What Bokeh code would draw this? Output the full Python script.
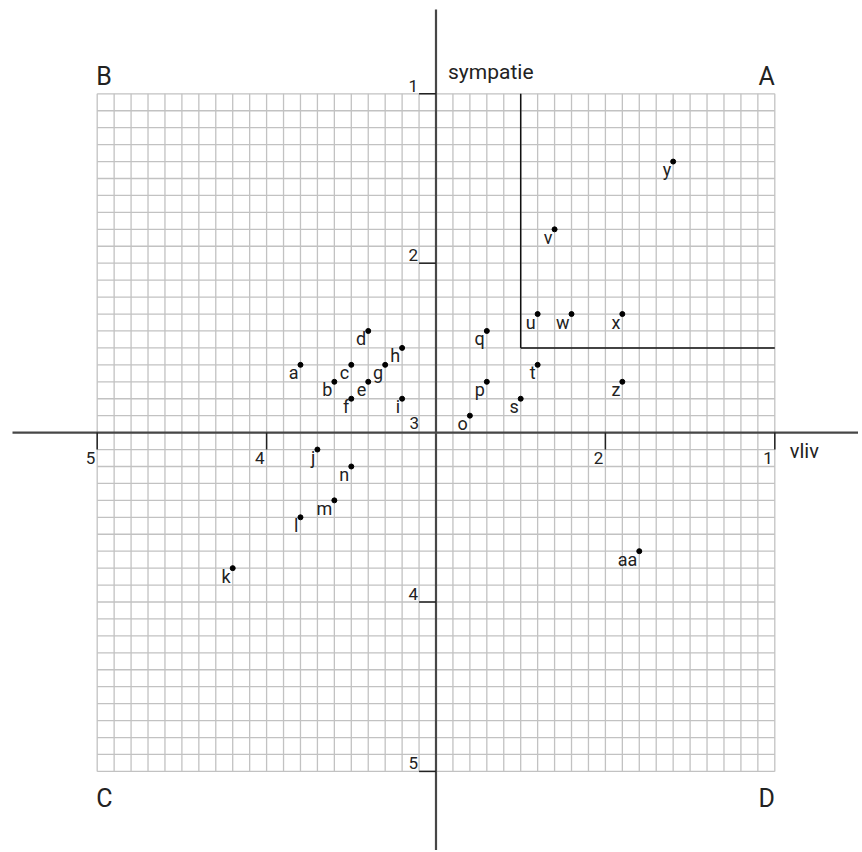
from bokeh.plotting import figure
from bokeh.models import Range1d, ColumnDataSource
from bokeh.core.properties import value
from bokeh.embed import file_html
from bokeh.resources import INLINE
import numpy as np

# ---- data ----
labels = ["a", "b", "c", "d", "e", "f", "g", "h", "i", "j", "k", "l", "m", "n",
          "o", "p", "q", "s", "t", "u", "v", "w", "x", "y", "z", "aa"]
vliv = [3.8, 3.6, 3.5, 3.4, 3.4, 3.5, 3.3, 3.2, 3.2, 3.7, 4.2, 3.8, 3.6, 3.5,
        2.8, 2.7, 2.7, 2.5, 2.4, 2.4, 2.3, 2.2, 1.9, 1.6, 1.9, 1.8]
sympatie = [2.6, 2.7, 2.6, 2.4, 2.7, 2.8, 2.6, 2.5, 2.8, 3.1, 3.8, 3.5, 3.4, 3.2,
            2.9, 2.7, 2.4, 2.8, 2.6, 2.3, 1.8, 2.3, 2.3, 1.4, 2.7, 3.7]

x_ticks = [5, 4, 2, 1]
x_tick_labels = ["5", "4", "2", "1"]
y_ticks = [1, 2, 4, 5]
y_tick_labels = ["1", "2", "4", "5"]
quadrants = ["B", "A", "C", "D"]

FONT = value("Roboto")
TXT = "#222222"

X0, X1 = 5.5708, 0.5059
Y0, Y1 = 5.4669, 0.4492

p = figure(width=858, height=850, output_backend="svg", toolbar_location=None,
           x_range=Range1d(X0, X1), y_range=Range1d(Y0, Y1),
           x_axis_type=None, y_axis_type=None, min_border=0,
           outline_line_color=None, background_fill_color="white",
           border_fill_color="white")
p.grid.visible = False

# ---- fine grid ----
g = np.round(np.arange(1.0, 5.0001, 0.1), 2)
p.segment(x0=g, y0=1, x1=g, y1=5, line_color="#c2c2c2", line_width=1.3)
p.segment(x0=1, y0=g, x1=5, y1=g, line_color="#c2c2c2", line_width=1.3)

# ---- quadrant A box ----
p.segment(x0=[2.5, 2.5], y0=[1, 2.5], x1=[2.5, 1], y1=[2.5, 2.5],
          line_color="#111111", line_width=1.5)

# ---- main axes ----
p.segment(x0=[5.5, 3], y0=[3, 0.5024], x1=[X1, 3], y1=[3, Y0],
          line_color="#474747", line_width=2.2)

# ticks
p.segment(x0=x_ticks, y0=3, x1=x_ticks, y1=3.1, line_color="#222222", line_width=1.5)
p.segment(x0=3, y0=y_ticks, x1=3.1, y1=y_ticks, line_color="#222222", line_width=1.5)

p.text(x=x_ticks, y=[3] * 4, text=x_tick_labels, text_align="right",
       text_baseline="top", x_offset=-2, y_offset=19, text_font=FONT,
       text_font_size="17px", text_color=TXT)
p.text(x=[3] * 4, y=y_ticks, text=y_tick_labels, text_align="right",
       text_baseline="alphabetic", x_offset=-18, y_offset=-8, text_font=FONT,
       text_font_size="17px", text_color=TXT)
p.text(x=[3], y=[3], text=["3"], text_align="right", text_baseline="alphabetic",
       x_offset=-17, y_offset=-10, text_font=FONT, text_font_size="17px",
       text_color=TXT)

# axis titles
p.text(x=[3], y=[1], text=["sympatie"], text_align="left", text_baseline="alphabetic",
       x_offset=12, y_offset=-22, text_font=FONT, text_font_size="21px",
       text_color=TXT)
p.text(x=[1], y=[3], text=["vliv"], text_align="left", text_baseline="alphabetic",
       x_offset=15, y_offset=18, text_font=FONT, text_font_size="20px",
       text_color=TXT)

# quadrant letters
p.text(x=[5, 1, 5, 1], y=[1, 1, 5, 5], text=quadrants,
       text_align=["left", "right", "left", "right"], text_baseline="alphabetic",
       x_offset=[-1, 0, -1, 0], y_offset=[-17, -17, 27, 27], text_font=FONT,
       text_font_size="25px", text_color=TXT)

# ---- data points ----
src = ColumnDataSource(dict(x=vliv, y=sympatie, label=labels))
p.scatter("x", "y", source=src, size=5, color="black")
p.text("x", "y", text="label", source=src, text_align="right",
       text_baseline="alphabetic", x_offset=-2, y_offset=8, text_font=FONT,
       text_font_size="18px", text_color=TXT)

open("out.html", "w").write(file_html(p, INLINE))
